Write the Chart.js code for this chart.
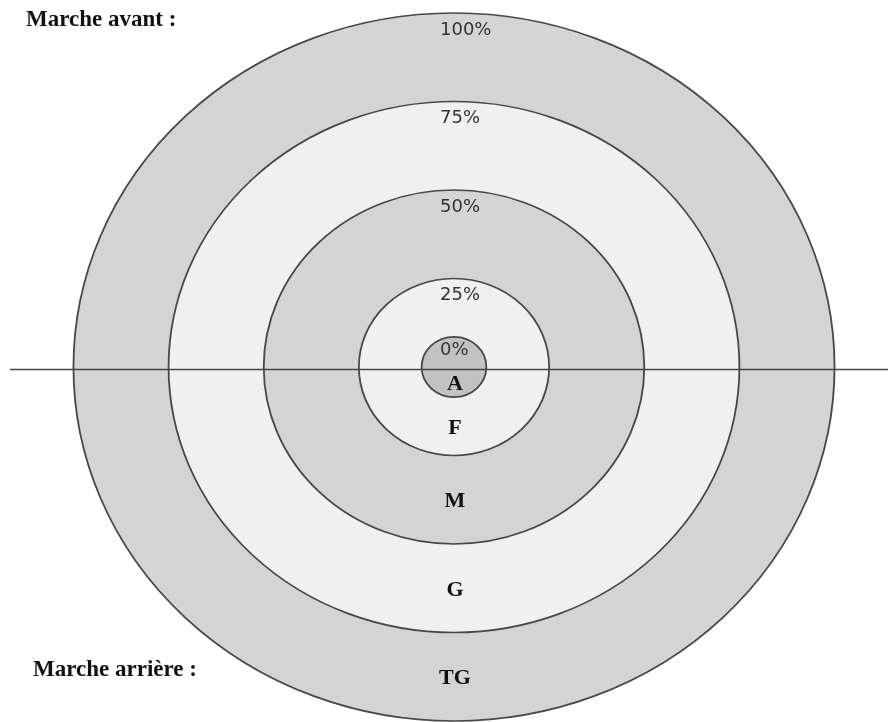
<!DOCTYPE html>
<html>
<head>
<meta charset="utf-8">
<script src="https://cdn.jsdelivr.net/npm/chart.js@4.4.1/dist/chart.umd.min.js"></script>
<style>
  html, body { margin: 0; padding: 0; background: #fff; }
  #wrap { width: 888px; height: 722px; }
</style>
</head>
<body>
<div id="wrap"><canvas id="myChart" width="888" height="722"></canvas></div>
<script>
// rings, from the centre outwards
const ringLabels = ['0%', '25%', '50%', '75%', '100%']
const ringValues = [8.5, 25, 50, 75, 100]
const zoneNames = ['A', 'F', 'M', 'G', 'TG']
const ringColors = ['#c2c2c2', '#f0f0f0', '#d4d4d4', '#f0f0f0', '#d4d4d4']
const gridTicks = [0].concat(ringValues)

const stretchX = 1.075   // the target is a bit wider than tall

const ellipse = {
  id: 'ellipse',
  beforeDraw(chart) {
    const r = chart.scales.r
    const ctx = chart.ctx
    ctx.save()
    ctx.translate(r.xCenter, 0)
    ctx.scale(stretchX, 1)
    ctx.translate(-r.xCenter, 0)
  },
  afterDraw(chart) {
    const r = chart.scales.r
    const ctx = chart.ctx
    ctx.restore()

    ctx.save()
    // horizontal axis
    ctx.strokeStyle = '#444'
    ctx.lineWidth = 1.7
    ctx.beginPath()
    ctx.moveTo(10, r.yCenter + 2.5)
    ctx.lineTo(chart.width, r.yCenter + 2.5)
    ctx.stroke()

    // percent labels at the top of each ring
    ctx.font = '18px "DejaVu Sans"'
    ctx.fillStyle = '#333'
    ctx.textAlign = 'left'
    ctx.textBaseline = 'middle'
    ringValues.forEach((v, i) => {
      const d = r.getDistanceFromCenterForValue(v)
      ctx.fillText(ringLabels[i], r.xCenter - 14, r.yCenter - d + Math.min(17, d * 0.43))
    })

    // zone letters below the centre
    ctx.font = 'bold 22px "Liberation Serif"'
    ctx.fillStyle = '#111'
    ctx.textAlign = 'center'
    let prev = 0
    ringValues.forEach((v, i) => {
      const d = r.getDistanceFromCenterForValue(v)
      ctx.fillText(zoneNames[i], r.xCenter + 1, r.yCenter + (prev + d) / 2 + 2)
      prev = d
    })

    // side titles
    ctx.font = 'bold 23px "Liberation Serif"'
    ctx.textAlign = 'left'
    ctx.textBaseline = 'alphabetic'
    ctx.fillText('Marche avant :', 26, 26)
    ctx.fillText('Marche arrière :', 33, 676)
    ctx.restore()
  }
}

const ctx = document.getElementById('myChart')

new Chart(ctx, {
  type: 'polarArea',
  data: {
    labels: [''],
    datasets: ringValues.map((v, i) => ({
      label: zoneNames[i],
      data: [v],
      backgroundColor: ringColors[i],
      borderWidth: 0,
      clip: false
    }))
  },
  options: {
    responsive: false,
    animation: false,
    events: [],
    layout: { padding: { left: 100, right: 80, top: 13, bottom: 1 } },
    scales: {
      r: {
        min: 0,
        max: 100,
        ticks: { display: false },
        afterBuildTicks(scale) {
          scale.ticks = gridTicks.map(v => ({ value: v }))
        },
        grid: { circular: true, color: '#484848', lineWidth: 1.7, z: 1 },
        angleLines: { display: false },
        pointLabels: { display: false }
      }
    },
    plugins: {
      legend: { display: false },
      tooltip: { enabled: false }
    }
  },
  plugins: [ellipse]
})
</script>
</body>
</html>
